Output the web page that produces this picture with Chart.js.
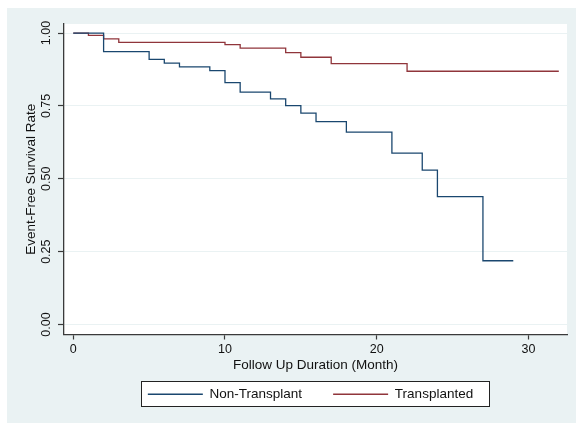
<!DOCTYPE html>
<html>
<head>
<meta charset="utf-8">
<script src="https://cdn.jsdelivr.net/npm/chart.js@4/dist/chart.umd.min.js"></script>
<style>
  html, body { margin: 0; padding: 0; background: #fff; }
  #wrap { width: 576px; height: 423px; }
</style>
</head>
<body>
<div id="wrap"><canvas id="chart" width="576" height="423"></canvas></div>
<script>
// Kaplan-Meier steps
const nonTransplantMonths = [0, 2, 5, 6, 7, 9, 10, 11, 13, 14, 15, 16, 18, 21, 23, 24, 27, 29];
const nonTransplantSurv = [1.0, 0.936, 0.910, 0.897, 0.884, 0.871, 0.830, 0.797, 0.774, 0.751, 0.725, 0.696, 0.660, 0.588, 0.530, 0.439, 0.219, 0.219];
const transplantedMonths = [0, 1, 2, 3, 10, 11, 14, 15, 17, 22, 32];
const transplantedSurv = [1.0, 0.992, 0.980, 0.968, 0.960, 0.948, 0.933, 0.917, 0.895, 0.869, 0.869];

const seriesLabels = ["Non-Transplant", "Transplanted"];
const xTicks = [0, 10, 20, 30];
const yTicks = [0, 0.25, 0.5, 0.75, 1];

const FONT = "'Liberation Sans', Arial, sans-serif";
const BG = "rgb(234,242,243)";
const AXIS = "#3a3a3a";

const toPoints = (xs, ys) => xs.map((x, i) => ({x, y: ys[i]}));

const backdrop = {
  id: "backdrop",
  afterLayout(chart) {
    // legend sits a little left of the plot centre
    chart.legend.left -= 5;
    chart.legend.right -= 5;
  },
  beforeDraw(chart) {
    const {ctx, chartArea: a} = chart;
    ctx.save();
    ctx.fillStyle = "#fff";
    ctx.fillRect(0, 0, chart.width, chart.height);
    ctx.fillStyle = BG;
    ctx.fillRect(7, 8, chart.width - 7, chart.height - 8);
    ctx.fillStyle = "#fff";
    ctx.fillRect(a.left, a.top, a.right - a.left, a.bottom - a.top);

    // frame round the legend
    const boxes = chart.legend.legendHitBoxes;
    if (boxes && boxes.length) {
      const first = boxes[0], last = boxes[boxes.length - 1];
      const cy = first.top + first.height / 2;
      const l = Math.round(first.left - 7) + 0.5;
      const r = Math.round(last.left + last.width + 16) + 0.5;
      const t = Math.round(cy - 13) + 0.5;
      const b = Math.round(cy + 12) + 0.5;
      ctx.fillStyle = "#fff";
      ctx.fillRect(l, t, r - l, b - t);
      ctx.strokeStyle = "#222";
      ctx.lineWidth = 1;
      ctx.strokeRect(l, t, r - l, b - t);
    }
    ctx.restore();
  }
};

new Chart(document.getElementById("chart"), {
  type: "line",
  data: {
    datasets: [
      {
        label: seriesLabels[0],
        data: toPoints(nonTransplantMonths, nonTransplantSurv),
        borderColor: "rgb(26,71,111)",
        backgroundColor: "rgb(26,71,111)",
        borderWidth: 1.3,
        stepped: true,
        pointRadius: 0,
        fill: false,
      },
      {
        label: seriesLabels[1],
        data: toPoints(transplantedMonths, transplantedSurv),
        borderColor: "rgb(144,53,59)",
        backgroundColor: "rgb(144,53,59)",
        borderWidth: 1.3,
        stepped: true,
        pointRadius: 0,
        fill: false,
      },
    ],
  },
  options: {
    responsive: false,
    animation: false,
    layout: {padding: {top: 24, right: 9, bottom: 12, left: 0}},
    plugins: {
      tooltip: {enabled: false},
      legend: {
        position: "bottom",
        fullSize: false,
        labels: {
          usePointStyle: true,
          pointStyle: "line",
          pointStyleWidth: 55,
          padding: 31,
          color: "#111",
          font: {family: FONT, size: 13.5},
        },
      },
    },
    scales: {
      x: {
        type: "linear",
        min: -0.61,
        max: 32.54,
        afterBuildTicks: s => { s.ticks = xTicks.map(v => ({value: v})); },
        afterFit: s => { s.height = 22; },
        ticks: {
          color: "#111",
          font: {family: FONT, size: 12.5},
          padding: 3,
          maxRotation: 0,
        },
        grid: {
          drawOnChartArea: false,
          tickLength: 5,
          tickColor: AXIS,
          tickWidth: 1.2,
        },
        border: {color: AXIS, width: 1.3},
        title: {
          display: true,
          text: "Follow Up Duration (Month)",
          color: "#111",
          font: {family: FONT, size: 13.5},
          padding: {top: 0, bottom: -16.8},
        },
      },
      y: {
        type: "linear",
        min: -0.034,
        max: 1.031,
        afterBuildTicks: s => { s.ticks = yTicks.map(v => ({value: v})); },
        afterFit: s => { s.width = 64; },
        ticks: {
          color: "#111",
          font: {family: FONT, size: 12.5},
          minRotation: 90,
          maxRotation: 90,
          crossAlign: "center",
          padding: -1,
          callback: v => Number(v).toFixed(2),
        },
        grid: {
          color: BG,
          lineWidth: 1,
          tickLength: 6,
          tickColor: AXIS,
          tickWidth: 1.2,
        },
        border: {color: AXIS, width: 1.3},
        title: {
          display: true,
          text: "Event-Free Survival Rate",
          color: "#111",
          font: {family: FONT, size: 13.5},
          padding: {top: 22.9, bottom: 0},
        },
      },
    },
  },
  plugins: [backdrop],
});
</script>
</body>
</html>
